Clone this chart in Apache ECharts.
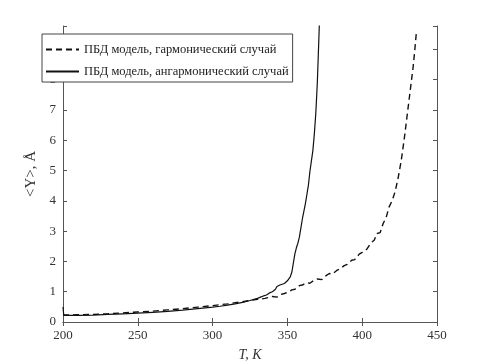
<!DOCTYPE html>
<html>
<head>
<meta charset="utf-8">
<script src="https://cdn.jsdelivr.net/npm/echarts@6/dist/echarts.min.js"></script>
<style>html,body{margin:0;padding:0;background:#fff}#c{width:484px;height:363px}</style>
</head>
<body>
<div id="c"></div>
<script>
// Anharmonic case (solid)
const anhT = [200, 200.5, 210, 220, 230, 240, 250, 260, 270, 280, 290, 300, 305, 310, 315, 320, 325, 330, 332, 334, 336, 338, 340, 341, 342, 343, 344, 345, 346, 348, 350, 351, 352, 353, 354, 355, 356, 357, 358, 359, 360, 361, 362, 363, 364, 365, 366, 367, 368, 369, 370, 371, 371.6];
const anhY = [0.5, 0.22, 0.22, 0.23, 0.25, 0.27, 0.29, 0.32, 0.35, 0.39, 0.44, 0.49, 0.52, 0.56, 0.6, 0.65, 0.71, 0.78, 0.82, 0.86, 0.89, 0.96, 1.0, 1.06, 1.08, 1.17, 1.12, 1.22, 1.18, 1.27, 1.36, 1.42, 1.5, 1.65, 1.95, 2.25, 2.45, 2.6, 2.8, 3.1, 3.4, 3.65, 3.9, 4.2, 4.5, 4.95, 5.3, 5.65, 6.2, 6.9, 7.9, 9.3, 10.2];
// Harmonic case (dashed)
const harT = [200, 210, 220, 230, 240, 250, 260, 270, 280, 290, 300, 310, 320, 330, 335, 340, 343, 345, 348, 350, 353, 355, 358, 360, 363, 365, 368, 370, 373, 375, 378, 380, 383, 385, 388, 390, 393, 395, 398, 400, 403, 406, 408, 410, 412, 414, 416, 418, 419, 420, 422, 424, 426, 428, 430, 432, 434, 435, 436.3];
const harY = [0.23, 0.24, 0.25, 0.27, 0.3, 0.33, 0.36, 0.4, 0.44, 0.49, 0.54, 0.6, 0.67, 0.75, 0.78, 0.84, 0.82, 0.9, 0.94, 0.98, 1.06, 1.08, 1.2, 1.22, 1.3, 1.28, 1.38, 1.42, 1.4, 1.5, 1.6, 1.58, 1.7, 1.75, 1.86, 1.9, 2.04, 2.06, 2.24, 2.3, 2.4, 2.62, 2.7, 2.92, 2.95, 3.25, 3.45, 3.8, 3.82, 4.0, 4.3, 4.75, 5.3, 6.0, 6.8, 7.6, 8.4, 8.9, 9.6];
const xTicks = [200, 250, 300, 350, 400, 450];
const yTicks = [0, 1, 2, 3, 4, 5, 6, 7, 8, 9];
const seriesNames = ['ПБД модель, гармонический случай', 'ПБД модель, ангармонический случай'];

const zip = (a, b) => a.map((v, i) => [v, b[i]]);
const font = 'Liberation Serif';
const axisCol = '#555';
const chart = echarts.init(document.getElementById('c'), null, {renderer: 'canvas'});
const xBase = {
  type: 'value', min: xTicks[0], max: xTicks[xTicks.length - 1], interval: 50,
  splitLine: {show: false},
  axisLine: {show: true, lineStyle: {color: axisCol, width: 1}},
  axisTick: {show: true, inside: true, length: 4, lineStyle: {color: axisCol}},
};
const yBase = {
  type: 'value', min: 0, max: 9.77, interval: 1,
  splitLine: {show: false},
  axisLine: {show: true, lineStyle: {color: axisCol, width: 1}},
  axisTick: {show: true, inside: true, length: 4, lineStyle: {color: axisCol}},
};
chart.setOption({
  animation: false,
  backgroundColor: '#fff',
  grid: {left: 63, right: 47, top: 26, bottom: 41, containLabel: false, outerBoundsMode: 'none'},
  legend: {
    left: 42, top: 34, orient: 'vertical',
    data: seriesNames,
    backgroundColor: '#fff', borderColor: '#444', borderWidth: 1,
    padding: [9, 4, 4, 3], itemGap: 9, itemWidth: 33, itemHeight: 14,
    itemStyle: {opacity: 0},
    textStyle: {fontFamily: font, fontSize: 12.5, color: '#222'}
  },
  xAxis: [
    Object.assign({}, xBase, {
      position: 'bottom',
      axisLabel: {fontFamily: font, fontSize: 13, color: '#333', margin: 7},
      name: 'T, K', nameLocation: 'middle', nameGap: 26,
      nameTextStyle: {fontFamily: font, fontSize: 14, fontStyle: 'italic', color: '#333'}
    }),
    Object.assign({}, xBase, {position: 'top', axisLabel: {show: false}})
  ],
  yAxis: [
    Object.assign({}, yBase, {
      position: 'left',
      axisLabel: {fontFamily: font, fontSize: 13, color: '#333', margin: 7,
        formatter: v => (yTicks.includes(v) ? String(v) : '')},
      name: '<Y>, Å', nameLocation: 'middle', nameGap: 16,
      nameTextStyle: {fontFamily: font, fontSize: 15, color: '#333'}
    }),
    Object.assign({}, yBase, {position: 'right', axisLabel: {show: false}})
  ],
  series: [
    {
      name: seriesNames[0], type: 'line', data: zip(harT, harY),
      showSymbol: false, symbol: 'none', clip: true,
      lineStyle: {color: '#111', width: 1.4, type: [6, 4]}, itemStyle: {color: '#111'}
    },
    {
      name: seriesNames[1], type: 'line', data: zip(anhT, anhY),
      showSymbol: false, symbol: 'none', clip: true,
      lineStyle: {color: '#111', width: 1.2, type: 'solid'}, itemStyle: {color: '#111'}
    }
  ]
});
</script>
</body>
</html>
